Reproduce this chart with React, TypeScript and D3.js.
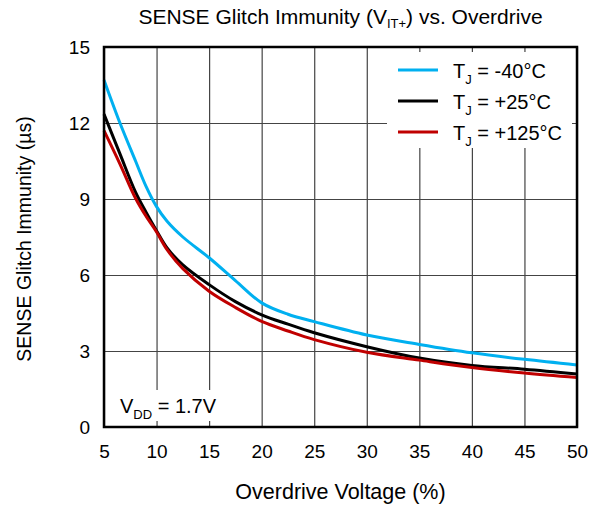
import React, { useEffect, useRef } from "react";
import { axisBottom, axisLeft, curveCatmullRom, line, scaleLinear, select } from "d3";

// overdrive voltage (%) sample points
const overdrive = [5, 6.5, 8, 9, 10, 11, 12.5, 15, 17.5, 20, 22.5, 25, 30, 35, 40, 45, 50];
// glitch immunity (us) per junction temperature
const glitchMinus40 = [13.7, 12.02, 10.5, 9.5, 8.7, 8.12, 7.5, 6.68, 5.78, 4.9, 4.45, 4.16, 3.63, 3.26, 2.93, 2.67, 2.45];
const glitchPlus25 = [12.35, 10.8, 9.27, 8.48, 7.75, 7.07, 6.4, 5.62, 4.95, 4.43, 4.06, 3.72, 3.17, 2.72, 2.43, 2.28, 2.09];
const glitchPlus125 = [11.7, 10.4, 9.03, 8.32, 7.7, 7.0, 6.25, 5.36, 4.72, 4.17, 3.79, 3.45, 2.95, 2.64, 2.35, 2.13, 1.95];
const seriesLabels = ["-40°C", "+25°C", "+125°C"];

const xTicks = [5, 10, 15, 20, 25, 30, 35, 40, 45, 50];
const yTicks = [0, 3, 6, 9, 12, 15];

const FONT = "'Liberation Sans', Arial, sans-serif";

const margin = { top: 47, right: 23, bottom: 82, left: 104 };
const W = 600;
const H = 509;
const width = W - margin.left - margin.right;
const height = H - margin.top - margin.bottom;

const x = scaleLinear().domain([5, 50]).range([0, width]);
const y = scaleLinear().domain([0, 15]).range([height, 0]);

function XAxis() {
  const ref = useRef<SVGGElement>(null);
  useEffect(() => {
    if (!ref.current) return;
    const g = select(ref.current);
    g.call(axisBottom(x).tickValues(xTicks).tickSize(-height).tickPadding(18));
    g.select(".domain").remove();
    g.selectAll(".tick line").attr("stroke", "#444").attr("stroke-width", 1.2);
    g.selectAll(".tick text")
      .attr("fill", "#000")
      .style("font-family", FONT)
      .style("font-size", "19px");
  }, []);
  return <g ref={ref} transform={`translate(0,${height})`} />;
}

function YAxis() {
  const ref = useRef<SVGGElement>(null);
  useEffect(() => {
    if (!ref.current) return;
    const g = select(ref.current);
    g.call(axisLeft(y).tickValues(yTicks).tickSize(-width).tickPadding(14));
    g.select(".domain").remove();
    g.selectAll(".tick line").attr("stroke", "#444").attr("stroke-width", 1.2);
    g.selectAll(".tick text")
      .attr("fill", "#000")
      .style("font-family", FONT)
      .style("font-size", "19px");
  }, []);
  return <g ref={ref} />;
}

export default function App() {
  const series = [
    { name: seriesLabels[0], values: glitchMinus40, color: "#00B0F0" },
    { name: seriesLabels[1], values: glitchPlus25, color: "#000000" },
    { name: seriesLabels[2], values: glitchPlus125, color: "#C00000" },
  ];

  const path = line<number>()
    .x((_, i) => x(overdrive[i]))
    .y((d) => y(d))
    .curve(curveCatmullRom.alpha(0.5));

  return (
    <div style={{ position: "absolute", left: 0, top: 0 }}>
      <svg width={W} height={H} style={{ display: "block", fontFamily: FONT }}>
        <rect width={W} height={H} fill="#fff" />
        <text x={340.5} y={24} textAnchor="middle" fontSize={21}>
          SENSE Glitch Immunity (V
          <tspan fontSize={13} dy={4}>IT+</tspan>
          <tspan dy={-4}>) vs. Overdrive</tspan>
        </text>

        <g transform={`translate(${margin.left},${margin.top})`}>
          <XAxis />
          <YAxis />

          {/* legend backdrop */}
          <rect x={283} y={5} width={185} height={96} fill="#fff" />
          {/* VDD label backdrop */}
          <rect x={8} y={343} width={120} height={31} fill="#fff" />

          {series.map((s) => (
            <path
              key={s.name}
              d={path(s.values) ?? ""}
              fill="none"
              stroke={s.color}
              strokeWidth={3}
              strokeLinejoin="round"
            />
          ))}

          <rect width={width} height={height} fill="none" stroke="#000" strokeWidth={2.5} />

          {series.map((s, i) => (
            <g key={`leg-${s.name}`} transform={`translate(294,${23 + i * 31})`}>
              <line x1={0} x2={40} stroke={s.color} strokeWidth={3} />
              <text x={55} y={7.5} fontSize={20}>
                T<tspan fontSize={13} dy={6}>J</tspan>
                <tspan dy={-6}> = {s.name}</tspan>
              </text>
            </g>
          ))}

          <text x={16} y={366} fontSize={20}>
            V<tspan fontSize={13} dy={6}>DD</tspan>
            <tspan dy={-6}> = 1.7V</tspan>
          </text>
        </g>

        <text x={margin.left + width / 2} y={499} textAnchor="middle" fontSize={21.5}>
          Overdrive Voltage (%)
        </text>
        <text
          transform={`translate(31,${margin.top + height / 2 + 2}) rotate(-90)`}
          textAnchor="middle"
          fontSize={19.5}
        >
          SENSE Glitch Immunity (µs)
        </text>
      </svg>
    </div>
  );
}
